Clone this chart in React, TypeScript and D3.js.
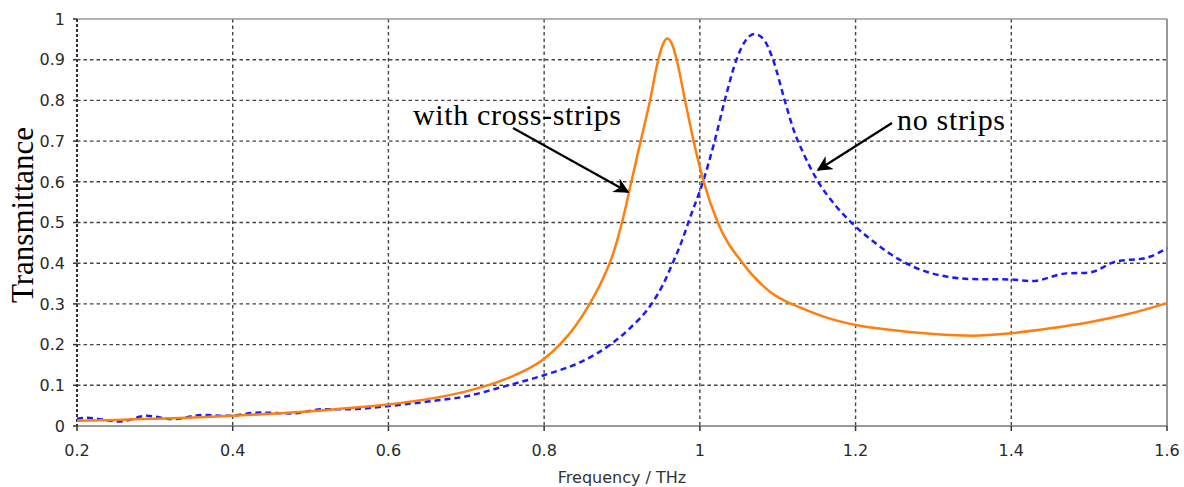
import * as d3 from 'd3';

// with cross-strips (orange, solid)
const crossFreq = [0.2, 0.25, 0.3, 0.35, 0.4, 0.45, 0.5, 0.55, 0.6, 0.65, 0.7, 0.75, 0.8, 0.82, 0.84, 0.86, 0.875, 0.888, 0.9, 0.912, 0.924, 0.936, 0.946, 0.952, 0.958, 0.965, 0.972, 0.981, 0.992, 1.005, 1.023, 1.055, 1.09, 1.13, 1.16, 1.2, 1.25, 1.3, 1.35, 1.4, 1.45, 1.5, 1.55, 1.6];
const crossT = [0.013, 0.015, 0.018, 0.021, 0.025, 0.03, 0.036, 0.044, 0.053, 0.066, 0.085, 0.115, 0.165, 0.2, 0.245, 0.305, 0.36, 0.42, 0.5, 0.6, 0.7, 0.8, 0.895, 0.935, 0.952, 0.935, 0.885, 0.8, 0.7, 0.6, 0.5, 0.4, 0.33, 0.29, 0.268, 0.248, 0.235, 0.226, 0.222, 0.228, 0.24, 0.255, 0.275, 0.302];

// no strips (blue, dashed)
const noFreq = [0.2, 0.213, 0.255, 0.29, 0.323, 0.362, 0.392, 0.435, 0.477, 0.516, 0.546, 0.6, 0.65, 0.7, 0.75, 0.8, 0.85, 0.885, 0.91, 0.938, 0.952, 0.965, 0.976, 0.987, 1.004, 1.019, 1.032, 1.047, 1.058, 1.07, 1.082, 1.094, 1.109, 1.12, 1.133, 1.152, 1.175, 1.2, 1.225, 1.257, 1.291, 1.351, 1.4, 1.426, 1.471, 1.5, 1.534, 1.573, 1.6];
const noT = [0.018, 0.02, 0.011, 0.025, 0.017, 0.027, 0.025, 0.033, 0.031, 0.041, 0.041, 0.049, 0.06, 0.073, 0.098, 0.125, 0.16, 0.2, 0.24, 0.3, 0.345, 0.4, 0.45, 0.51, 0.6, 0.7, 0.8, 0.9, 0.945, 0.963, 0.95, 0.9, 0.8, 0.73, 0.67, 0.6, 0.54, 0.49, 0.45, 0.408, 0.379, 0.361, 0.36, 0.356, 0.375, 0.377, 0.404, 0.413, 0.437];

const xTicks = [0.2, 0.4, 0.6, 0.8, 1, 1.2, 1.4, 1.6];
const yTicks = [0, 0.1, 0.2, 0.3, 0.4, 0.5, 0.6, 0.7, 0.8, 0.9, 1];

const W = 1184;
const H = 487;
const left = 77, right = 1167, top = 19, bottom = 426;

export default function App() {
  const x = d3.scaleLinear().domain([0.2, 1.6]).range([left, right]);
  const y = d3.scaleLinear().domain([0, 1]).range([bottom, top]);

  const line = d3
    .line<[number, number]>()
    .x((d) => x(d[0]))
    .y((d) => y(d[1]))
    .curve(d3.curveMonotoneX);

  const cross = crossFreq.map((f, i) => [f, crossT[i]] as [number, number]);
  const none = noFreq.map((f, i) => [f, noT[i]] as [number, number]);

  const gridColor = '#444';
  const tickFont = '"DejaVu Sans", Verdana, sans-serif';
  const serif = '"Liberation Serif", "Times New Roman", serif';

  return (
    <svg width={W} height={H} style={{ position: 'absolute', left: 0, top: 0, background: '#fff' }}>
      <defs>
        <marker id="arrow" viewBox="0 0 10 10" refX="9" refY="5" markerWidth="7" markerHeight="7" orient="auto">
          <path d="M0,0 L10,5 L0,10 L3,5 z" fill="#000" />
        </marker>
      </defs>
      {/* grid */}
      {yTicks.slice(1, -1).map((t) => (
        <line key={'gy' + t} x1={left} x2={right} y1={y(t)} y2={y(t)} stroke={gridColor} strokeWidth={1.4} strokeDasharray="3.5,3" />
      ))}
      {xTicks.slice(1, -1).map((t) => (
        <line key={'gx' + t} x1={x(t)} x2={x(t)} y1={top} y2={bottom} stroke={gridColor} strokeWidth={1.4} strokeDasharray="3.5,3" />
      ))}
      {/* frame */}
      <line x1={left} x2={right} y1={top} y2={top} stroke="#999" strokeWidth={1.5} />
      <line x1={right} x2={right} y1={top} y2={bottom} stroke="#777" strokeWidth={1.5} />
      <line x1={left} x2={right} y1={bottom} y2={bottom} stroke="#777" strokeWidth={1.5} />
      <line x1={left} x2={left} y1={top} y2={bottom} stroke="#333" strokeWidth={2} strokeDasharray="3,2" />
      {/* ticks */}
      {yTicks.map((t) => (
        <g key={'ty' + t}>
          <line x1={left - 4} x2={left} y1={y(t)} y2={y(t)} stroke="#333" strokeWidth={1.5} />
          <text x={left - 12} y={y(t)} dy="0.36em" textAnchor="end" fontFamily={tickFont} fontSize={16} fill="#2a2a2a">
            {t === 0 || t === 1 ? String(t) : t.toFixed(1)}
          </text>
        </g>
      ))}
      {xTicks.map((t) => (
        <g key={'tx' + t}>
          <line x1={x(t)} x2={x(t)} y1={bottom} y2={bottom + 5} stroke="#333" strokeWidth={1.5} />
          <text x={x(t)} y={456} textAnchor="middle" fontFamily={tickFont} fontSize={16} fill="#2a2a2a">
            {t === 1 ? '1' : t.toFixed(1)}
          </text>
        </g>
      ))}
      {/* series */}
      <path d={line(none) ?? ''} fill="none" stroke="#1a1aff" strokeWidth={2.5} strokeDasharray="6,4" />
      <path d={line(cross) ?? ''} fill="none" stroke="#ff7f0e" strokeWidth={2.5} />
      {/* titles */}
      <text x={622} y={483} textAnchor="middle" fontFamily={tickFont} fontSize={16} fill="#333">
        Frequency / THz
      </text>
      <text transform="translate(33,215) rotate(-90)" textAnchor="middle" fontFamily={serif} fontSize={31} fill="#000">
        Transmittance
      </text>
      {/* annotations */}
      <text x={413} y={125} fontFamily={serif} fontSize={30} fill="#000" textLength={208}>
        with cross-strips
      </text>
      <line x1={513} y1={128} x2={628} y2={192} stroke="#000" strokeWidth={2.2} markerEnd="url(#arrow)" />
      <text x={897} y={130} fontFamily={serif} fontSize={30} fill="#000" textLength={108}>
        no strips
      </text>
      <line x1={892} y1={123} x2={818} y2={170} stroke="#000" strokeWidth={2.2} markerEnd="url(#arrow)" />
    </svg>
  );
}
